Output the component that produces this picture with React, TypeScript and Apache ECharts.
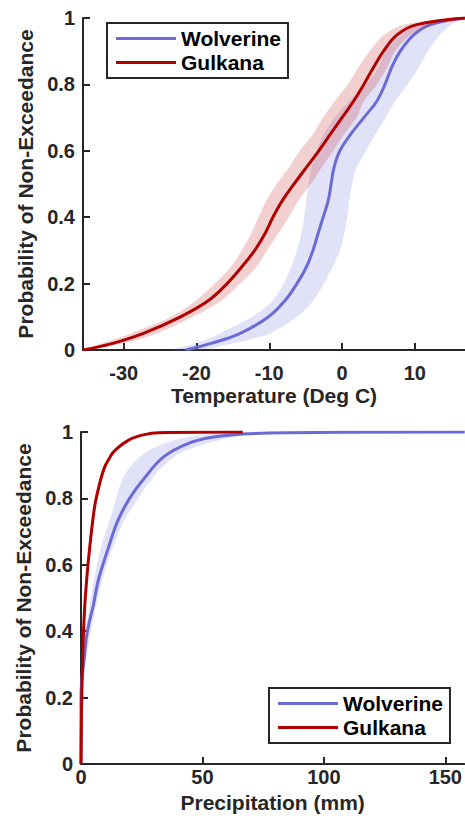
import React, { useEffect, useRef } from "react";
import * as echarts from "echarts";

// ---------- Temperature CDF (top panel) ----------
const tempProbLevels = [0, 0.02, 0.05, 0.1, 0.15, 0.2, 0.25, 0.3, 0.35, 0.4, 0.45, 0.5, 0.55, 0.6, 0.65, 0.7, 0.75, 0.8, 0.85, 0.9, 0.95, 0.98, 1.0];
const wolverineTempMedian = [-21.5, -18.0, -14.0, -10.1, -7.8, -6.2, -4.9, -4.0, -3.3, -2.6, -1.9, -1.5, -1.1, -0.3, 1.2, 3.0, 4.8, 5.9, 6.8, 8.0, 9.9, 12.2, 16.9];
const wolverineTempLow = [-23.3, -20.0, -16.8, -12.4, -9.5, -8.0, -7.0, -6.2, -5.6, -5.2, -4.9, -4.6, -4.2, -3.5, -2.5, -1.0, 1.0, 3.3, 5.0, 6.0, 8.2, 10.5, 15.5];
const wolverineTempHigh = [-19.5, -15.0, -9.9, -6.2, -3.9, -2.5, -1.3, -0.3, 0.3, 0.7, 1.0, 1.4, 2.0, 3.3, 4.6, 6.0, 7.3, 9.0, 10.5, 11.8, 13.5, 15.0, 16.9];
const gulkanaTempMedian = [-35.6, -31.5, -27.3, -22.2, -18.3, -15.8, -13.8, -12.0, -10.6, -9.5, -8.2, -6.6, -4.9, -3.2, -1.6, 0.0, 1.6, 3.0, 4.3, 5.7, 7.6, 10.3, 16.9];
const gulkanaTempLow = [-35.6, -33.0, -29.0, -23.5, -20.0, -17.5, -15.3, -13.8, -12.5, -11.5, -10.4, -9.0, -7.3, -5.8, -4.0, -2.6, -1.0, 0.8, 2.2, 3.8, 5.8, 8.5, 15.5];
const gulkanaTempHigh = [-35.2, -30.0, -25.5, -20.5, -16.5, -14.0, -11.8, -10.3, -8.8, -7.3, -6.0, -4.3, -2.8, -1.2, 0.3, 2.0, 3.0, 4.8, 6.2, 7.3, 9.5, 12.5, 16.9];
const tempTicks = [-30, -20, -10, 0, 10];

// ---------- Precipitation CDF (bottom panel) ----------
const wolverinePrecipMm = [0, 0, 0.4, 1.2, 2.2, 3.5, 5, 7, 9, 11, 15, 20, 26, 34, 44, 54, 67, 85, 158];
const wolverinePrecipProb = [0, 0.2, 0.26, 0.31, 0.38, 0.43, 0.475, 0.55, 0.6, 0.645, 0.73, 0.8, 0.86, 0.925, 0.965, 0.984, 0.994, 0.998, 1.0];
const wolverineBandProb = [0.2, 0.3, 0.4, 0.48, 0.58, 0.66, 0.735, 0.8, 0.835, 0.886, 0.936, 0.966, 0.985, 0.995, 1.0];
const wolverineBandLow = [0, 0.6, 2.0, 3.6, 6.0, 8.5, 11.8, 14.5, 15.9, 19.3, 26.2, 34.4, 44, 55, 65];
const wolverineBandHigh = [0.3, 1.8, 4.0, 6.3, 9.7, 13.5, 17.9, 23.5, 26.8, 32.3, 40.6, 52.2, 62, 68, 72];
const gulkanaPrecipMm = [0, 0.3, 0.8, 1.5, 2.5, 3.7, 5.5, 6.7, 9.5, 12, 14, 20, 26, 32, 66.6];
const gulkanaPrecipProb = [0, 0.2, 0.35, 0.47, 0.57, 0.66, 0.77, 0.815, 0.89, 0.925, 0.945, 0.977, 0.992, 0.998, 1.0];
const gulkanaBandSpread = [0, 0.1, 0.2, 0.3, 0.4, 0.5, 0.6, 0.6, 0.6, 0.6, 0.5, 0.4, 0.3, 0.2, 0];
const precipTicks = [0, 50, 100, 150];

const probTicks = [0, 0.2, 0.4, 0.6, 0.8, 1];

const BLUE = "#6B6BD6";
const RED = "#B00000";
const BLUE_BAND = "rgba(107,107,214,0.2)";
const RED_BAND = "rgba(200,40,40,0.22)";
const INK = "#262626";
const FONT = "'Liberation Sans', Arial, Helvetica, sans-serif";

function bandByProb(levels: number[], low: number[], high: number[]) {
  const pts: number[][] = [];
  for (let i = 0; i < levels.length; i++) pts.push([low[i], levels[i]]);
  for (let i = levels.length - 1; i >= 0; i--) pts.push([high[i], levels[i]]);
  return pts;
}

function zipXY(xs: number[], ys: number[]) {
  return xs.map((x, i) => [x, ys[i]]);
}

function bandSeries(poly: number[][], color: string, axisIndex: number, z: number) {
  return {
    type: "custom",
    name: "band" + z,
    xAxisIndex: axisIndex,
    yAxisIndex: axisIndex,
    silent: true,
    z,
    data: poly,
    renderItem: (params: any, api: any) => {
      if (params.dataIndex !== 0) return { type: "group", children: [] };
      const pts = poly.map((p) => api.coord(p));
      return { type: "polygon", shape: { points: pts, smooth: 0.3 }, style: { fill: color, stroke: "none" } };
    },
  };
}

function lineSeries(name: string, data: number[][], color: string, axisIndex: number, z: number) {
  return {
    type: "line",
    name,
    xAxisIndex: axisIndex,
    yAxisIndex: axisIndex,
    data,
    showSymbol: false,
    symbol: "none",
    smooth: 0.4,
    z,
    color,
    lineStyle: { color, width: 3 },
    itemStyle: { color },
  };
}

const axisText = { color: INK, fontFamily: FONT, fontWeight: "bold" as const, fontSize: 20 };
const nameText = { color: INK, fontFamily: FONT, fontWeight: "bold" as const, fontSize: 21 };

function xAxisCfg(gridIndex: number, min: number, max: number, ticks: number[], name: string, labelMargin: number, nameGap: number) {
  return {
    type: "value",
    gridIndex,
    min,
    max,
    name,
    nameLocation: "middle",
    nameGap,
    nameTextStyle: nameText,
    axisLine: { show: true, onZero: false, lineStyle: { color: INK, width: 2 } },
    axisTick: { show: true, inside: true, length: 7, customValues: ticks, lineStyle: { color: INK, width: 2 } },
    axisLabel: { ...axisText, margin: labelMargin, customValues: ticks },
    splitLine: { show: false },
  };
}

function yAxisCfg(gridIndex: number, nameGap: number) {
  return {
    type: "value",
    gridIndex,
    min: 0,
    max: 1,
    name: "Probability of Non-Exceedance",
    nameLocation: "middle",
    nameGap,
    nameTextStyle: nameText,
    axisLine: { show: true, onZero: false, lineStyle: { color: INK, width: 2 } },
    axisTick: { show: true, inside: true, length: 7, customValues: probTicks, lineStyle: { color: INK, width: 2 } },
    axisLabel: { ...axisText, margin: 8, customValues: probTicks },
    splitLine: { show: false },
  };
}

function legendCfg(left: number, top: number) {
  return {
    data: ["Wolverine", "Gulkana"],
    orient: "vertical",
    left,
    top,
    selectedMode: false,
    icon: "rect",
    itemWidth: 60,
    itemHeight: 3,
    itemGap: 3,
    padding: [5, 7, 5, 9],
    borderColor: INK,
    borderWidth: 2,
    backgroundColor: "#fff",
    textStyle: { color: "#000", fontFamily: FONT, fontWeight: "bold", fontSize: 21, padding: [0, 0, 0, 0] },
  };
}

export default function App() {
  const ref = useRef<HTMLDivElement>(null);
  useEffect(() => {
    document.body.style.margin = "0";
    if (!ref.current) return;
    const chart = echarts.init(ref.current, undefined, { renderer: "svg" });
    const option = {
      animation: false,
      backgroundColor: "#fff",
      grid: [
        { left: 83, top: 18, width: 382, height: 332, containLabel: false },
        { left: 81, top: 432, width: 384, height: 332, containLabel: false },
      ],
      xAxis: [
        xAxisCfg(0, -35.6, 16.9, tempTicks, "Temperature (Deg C)", 13, 35),
        xAxisCfg(1, 0, 157.8, precipTicks, "Precipitation (mm)", 3, 28),
      ],
      yAxis: [yAxisCfg(0, 44), yAxisCfg(1, 44)],
      legend: [legendCfg(107, 23), legendCfg(269, 688)],
      series: [
        bandSeries(bandByProb(tempProbLevels, wolverineTempLow, wolverineTempHigh), BLUE_BAND, 0, 1),
        lineSeries("Wolverine", zipXY(wolverineTempMedian, tempProbLevels), BLUE, 0, 2),
        bandSeries(bandByProb(tempProbLevels, gulkanaTempLow, gulkanaTempHigh), RED_BAND, 0, 3),
        lineSeries("Gulkana", zipXY(gulkanaTempMedian, tempProbLevels), RED, 0, 4),
        bandSeries(bandByProb(wolverineBandProb, wolverineBandLow, wolverineBandHigh), BLUE_BAND, 1, 1),
        lineSeries("Wolverine", zipXY(wolverinePrecipMm, wolverinePrecipProb), BLUE, 1, 2),
        bandSeries(
          bandByProb(
            gulkanaPrecipProb,
            gulkanaPrecipMm.map((m, i) => Math.max(0, m - gulkanaBandSpread[i])),
            gulkanaPrecipMm.map((m, i) => m + gulkanaBandSpread[i])
          ),
          RED_BAND,
          1,
          3
        ),
        lineSeries("Gulkana", zipXY(gulkanaPrecipMm, gulkanaPrecipProb), RED, 1, 4),
      ],
    };
    chart.setOption(option as any);
    return () => chart.dispose();
  }, []);
  return <div ref={ref} style={{ width: 465, height: 824 }} />;
}
